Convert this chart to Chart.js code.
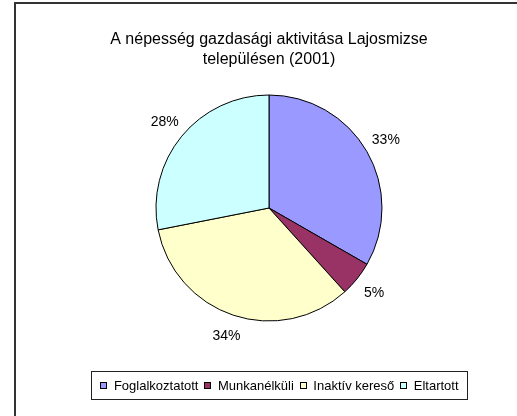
<!DOCTYPE html>
<html>
<head>
<meta charset="utf-8">
<script src="https://cdn.jsdelivr.net/npm/chart.js@4"></script>
<style>
  html, body { margin: 0; padding: 0; background: #fff; overflow: hidden; }
  #wrap { position: relative; width: 517px; height: 416px; overflow: hidden; }
  #frame { position: absolute; left: 14px; top: 2px; width: 600px; height: 600px; border: 2px solid #333; box-sizing: border-box; }
  #chart { position: absolute; left: 0; top: 0; }
  #legend { position: absolute; left: 91px; top: 371px; width: 377px; height: 29px; border: 1px solid #222;
    box-sizing: border-box; display: flex; align-items: center; justify-content: center;
    font: 13px "Liberation Sans", Arial, sans-serif; color: #000; white-space: nowrap; }
  .item { display: flex; align-items: center; margin-right: 6px; }
  .item:last-child { margin-right: 0; }
  .sw { width: 5px; height: 5px; border: 1px solid #000; margin-right: 6.5px; }
</style>
</head>
<body>
<div id="wrap">
  <div id="frame"></div>
  <canvas id="chart" width="517" height="416"></canvas>
  <div id="legend"></div>
</div>
<script>
const titleLines = ['A népesség gazdasági aktivitása Lajosmizse', 'településen (2001)'];
const categories = ['Foglalkoztatott', 'Munkanélküli', 'Inaktív kereső', 'Eltartott'];
const shares = [33.3, 5.0, 33.6, 28.1];
const colors = ['#9999FF', '#993366', '#FFFFCC', '#CCFFFF'];

// legend in html, with the frame round it like the excel one
const legendEl = document.getElementById('legend');
categories.forEach((name, i) => {
  const item = document.createElement('span');
  item.className = 'item';
  const sw = document.createElement('span');
  sw.className = 'sw';
  sw.style.background = colors[i];
  item.appendChild(sw);
  item.appendChild(document.createTextNode(name));
  legendEl.appendChild(item);
});

// percent labels outside the slices
const outsideLabels = {
  id: 'outsideLabels',
  afterDatasetsDraw(chart) {
    const ctx = chart.ctx;
    const meta = chart.getDatasetMeta(0);
    const data = chart.data.datasets[0].data;
    const total = data.reduce((a, b) => a + b, 0);
    ctx.save();
    ctx.font = '14px "Liberation Sans", Arial, sans-serif';
    ctx.fillStyle = '#000';
    ctx.textAlign = 'center';
    ctx.textBaseline = 'middle';
    meta.data.forEach((arc, i) => {
      const p = arc.getProps(['x', 'y', 'startAngle', 'endAngle', 'outerRadius'], true);
      const mid = (p.startAngle + p.endAngle) / 2;
      const r = p.outerRadius + 22;
      ctx.fillText(Math.round(data[i] / total * 100) + '%', p.x + Math.cos(mid) * r, p.y + Math.sin(mid) * r);
    });
    ctx.restore();
  }
};

new Chart(document.getElementById('chart'), {
  type: 'pie',
  data: {
    labels: categories,
    datasets: [{
      data: shares,
      backgroundColor: colors,
      borderColor: '#000',
      borderWidth: 1
    }]
  },
  options: {
    responsive: false,
    animation: false,
    devicePixelRatio: 1,
    radius: 113,
    layout: { padding: { left: 21, right: 0, top: 0, bottom: 70 } },
    plugins: {
      legend: { display: false },
      tooltip: { enabled: false },
      title: {
        display: true,
        text: titleLines,
        color: '#000',
        font: { family: '"Liberation Sans", Arial, sans-serif', size: 16, weight: 'normal', lineHeight: 1.25 },
        padding: { top: 30, bottom: 0 }
      }
    }
  },
  plugins: [outsideLabels]
});
</script>
</body>
</html>
